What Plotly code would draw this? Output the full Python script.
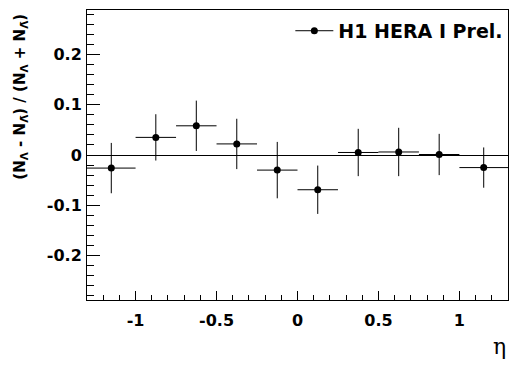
import plotly.graph_objects as go

# ---- data ----
eta_centers = [-1.15, -0.875, -0.625, -0.375, -0.125, 0.125, 0.375, 0.625, 0.875, 1.15]
eta_halfwidth = [0.15, 0.125, 0.125, 0.125, 0.125, 0.125, 0.125, 0.125, 0.125, 0.15]
asymmetry = [-0.026, 0.035, 0.058, 0.022, -0.030, -0.069, 0.005, 0.006, 0.001, -0.025]
asym_err = [0.050, 0.046, 0.050, 0.050, 0.056, 0.048, 0.047, 0.048, 0.041, 0.040]

x_tickvals = [-1, -0.5, 0, 0.5, 1]
x_ticktext = ["-1", "-0.5", "0", "0.5", "1"]
y_tickvals = [-0.2, -0.1, 0, 0.1, 0.2]
y_ticktext = ["-0.2", "-0.1", "0", "0.1", "0.2"]

legend_label = "H1 HERA I Prel."
y_title = "(N<sub>Λ</sub> - N<sub>Λ̄</sub>) / (N<sub>Λ</sub> + N<sub>Λ̄</sub>)"
x_title = "η"

BOLD = dict(family="DejaVu Sans", color="black", weight="bold")

fig = go.Figure()
fig.add_trace(go.Scatter(
    x=eta_centers, y=asymmetry, mode="markers",
    marker=dict(color="black", size=7, symbol="circle"),
    error_x=dict(type="data", array=eta_halfwidth, color="black", thickness=1, width=0),
    error_y=dict(type="data", array=asym_err, color="black", thickness=1, width=0),
    showlegend=False,
))
# legend entry
fig.add_trace(go.Scatter(
    x=[None], y=[None], mode="lines+markers", name=legend_label,
    line=dict(color="black", width=1),
    marker=dict(color="black", size=7),
))

fig.update_layout(
    width=520, height=368,
    margin=dict(l=87, r=12, t=10, b=68),
    paper_bgcolor="white", plot_bgcolor="white",
    showlegend=True,
    legend=dict(x=0.483, xanchor="left", y=0.928, yanchor="middle",
                bgcolor="rgba(0,0,0,0)", font=dict(size=19, **BOLD),
                itemwidth=38),
)
fig.update_xaxes(
    range=[-1.3, 1.3], showgrid=False, zeroline=False,
    showline=True, mirror=True, linecolor="black", linewidth=1,
    tickmode="array", tickvals=x_tickvals, ticktext=x_ticktext,
    ticks="inside", ticklen=9, tickcolor="black", tickwidth=1,
    minor=dict(tickmode="linear", tick0=0, dtick=0.1, ticks="inside", ticklen=5, tickcolor="black"),
    tickfont=dict(size=16, **BOLD), ticklabelstandoff=6,
)
fig.update_yaxes(
    range=[-0.288, 0.288], showgrid=False,
    zeroline=True, zerolinecolor="black", zerolinewidth=1,
    showline=True, mirror=True, linecolor="black", linewidth=1,
    tickmode="array", tickvals=y_tickvals, ticktext=y_ticktext,
    ticks="inside", ticklen=13, tickcolor="black", tickwidth=1,
    minor=dict(tickmode="linear", tick0=0, dtick=0.02, ticks="inside", ticklen=7, tickcolor="black"),
    tickfont=dict(size=16, **BOLD), ticklabelstandoff=1,
)
fig.add_annotation(
    text=y_title, textangle=-90, xref="paper", yref="paper",
    x=-0.16, y=0.993, xanchor="center", yanchor="top", showarrow=False,
    font=dict(size=15, **BOLD),
)
fig.add_annotation(
    text=x_title, xref="paper", yref="paper",
    x=1.0, y=-0.159, xanchor="right", yanchor="middle", showarrow=False,
    font=dict(size=22, family="DejaVu Serif", color="black"),
)
fig.write_html("out.html", config={"displayModeBar": False},
               post_script="document.body.style.margin='0';")
